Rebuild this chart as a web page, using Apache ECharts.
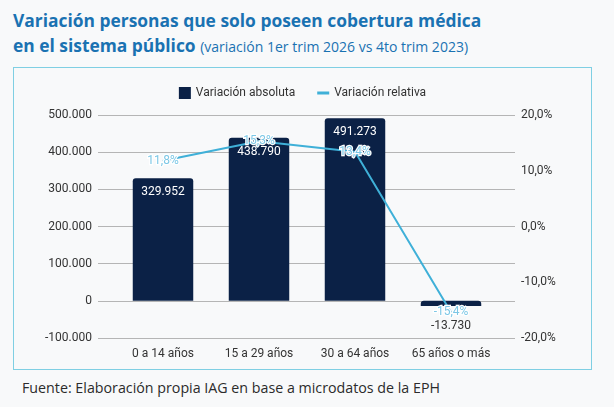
<!DOCTYPE html>
<html>
<head>
<meta charset="utf-8">
<script src="https://cdn.jsdelivr.net/npm/echarts@6/dist/echarts.min.js"></script>
<style>
  html, body { margin:0; padding:0; background:#f8f9fa; width:614px; height:407px; overflow:hidden; }
  #title { position:absolute; left:13px; top:8px; font-family:"Open Sans", sans-serif; color:#1a72b2; font-size:17.4px; font-weight:700; line-height:25px; white-space:nowrap; }
  #title .sub { font-weight:400; font-size:14px; }
  #box { position:absolute; left:13px; top:67px; width:577px; height:301px; border:1.5px solid #7fcfe3; }
  #chart { width:577px; height:301px; }
  #foot { position:absolute; left:22px; top:378px; font-family:"Open Sans", sans-serif; font-size:14.25px; color:#2b2b2b; white-space:nowrap; }
</style>
</head>
<body>
<div id="title">Variación personas que solo poseen cobertura médica<br>en el sistema público <span class="sub">(variación 1er trim 2026 vs 4to trim 2023)</span></div>
<div id="box"><div id="chart"></div></div>
<div id="foot">Fuente: Elaboración propia IAG en base a microdatos de la EPH</div>
<script>
const categories = ["0 a 14 años", "15 a 29 años", "30 a 64 años", "65 años o más"];
const absoluteValues = [329952, 438790, 491273, -13730];
const relativeValues = [11.8, 15.3, 13.4, -15.4];
const seriesNames = ["Variación absoluta", "Variación relativa"];

function fmtThousands(v) {
  const neg = v < 0;
  let s = Math.abs(Math.round(v)).toString().replace(/\B(?=(\d{3})+(?!\d))/g, ".");
  return (neg ? "-" : "") + s;
}
function fmtPct(v) {
  return v.toFixed(1).replace(".", ",") + "%";
}

const chart = echarts.init(document.getElementById("chart"));
const font = "Roboto, sans-serif";
const lblStyle = { color: "#333", fontSize: 12, fontFamily: font };
chart.setOption({
  animation: false,
  textStyle: { fontFamily: font },
  legend: {
    top: 14,
    left: "center",
    itemWidth: 12, itemHeight: 12, itemGap: 22,
    textStyle: { fontFamily: font, fontSize: 12, color: "#333" },
    data: [
      { name: seriesNames[0], icon: "rect" },
      { name: seriesNames[1], icon: "path://M0,4.5 L12,4.5 L12,7.5 L0,7.5 Z" }
    ]
  },
  grid: [
    { left: 84, right: 76, top: 47, bottom: 31 },
    { left: 101, right: 92, top: 47, bottom: 31 }
  ],
  xAxis: [
    {
      gridIndex: 0, type: "category", data: categories,
      show: false
    },
    {
      gridIndex: 1, type: "category", data: categories,
      axisLine: { show: false }, axisTick: { show: false },
      axisLabel: Object.assign({ margin: 10, interval: 0, hideOverlap: false }, lblStyle)
    }
  ],
  yAxis: [
    {
      gridIndex: 0, type: "value",
      min: -100000, max: 500000, interval: 100000,
      axisLine: { show: false }, axisTick: { show: false },
      axisLabel: Object.assign({ margin: 6, formatter: fmtThousands }, lblStyle),
      splitLine: { lineStyle: { color: "#b5b5b5", width: 1.2 } }
    },
    {
      gridIndex: 1, type: "value",
      min: -100000, max: 500000, interval: 100000,
      show: false, splitLine: { show: false }
    },
    {
      gridIndex: 1, type: "value", position: "right",
      min: -20, max: 20, interval: 10,
      axisLine: { show: false }, axisTick: { show: false },
      axisLabel: Object.assign({ margin: 22, formatter: fmtPct }, lblStyle),
      splitLine: { show: false }
    }
  ],
  series: [
    {
      name: seriesNames[0],
      type: "bar",
      xAxisIndex: 1, yAxisIndex: 1,
      data: absoluteValues.map(v => v < 0 ? { value: v, label: { position: "bottom", color: "#333", distance: 14 } } : v),
      barWidth: "63%",
      itemStyle: { color: "#0b2146", borderRadius: [3, 3, 0, 0] },
      label: {
        show: true, position: "insideTop", distance: 8,
        color: "#fff", fontSize: 12, fontFamily: font,
        formatter: p => fmtThousands(p.value)
      },
      z: 2
    },
    {
      name: seriesNames[1],
      type: "line",
      xAxisIndex: 1, yAxisIndex: 2,
      data: relativeValues,
      symbol: "circle", symbolSize: 1, showSymbol: true,
      lineStyle: { color: "#3fb0d8", width: 2 },
      itemStyle: { color: "#3fb0d8" },
      label: {
        show: true, position: "inside",
        color: "#7cc7e6", fontSize: 12, fontFamily: font,
        textBorderColor: "#ffffff", textBorderWidth: 2.5,
        formatter: p => fmtPct(p.value)
      },
      z: 3
    }
  ]
});
</script>
</body>
</html>
